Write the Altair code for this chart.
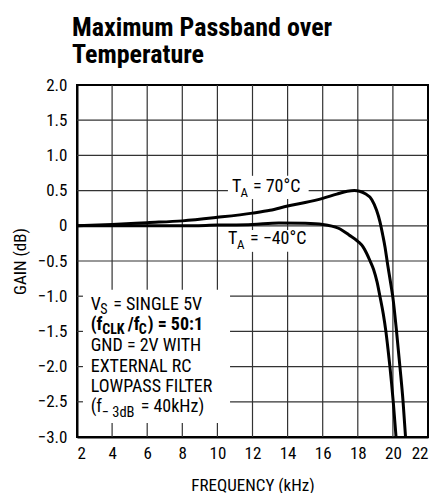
import altair as alt
import pandas as pd

FONT = "Liberation Sans Narrow, Roboto Condensed, DejaVu Sans Condensed, sans-serif"

# ---- data ----
freq_70 = [2, 4, 6, 8, 10, 12, 13, 14, 15, 16, 16.8, 17.4, 17.8, 18.1, 18.4, 18.8,
           19.07, 19.26, 19.42, 19.55, 19.7, 19.85, 20.0, 20.2, 20.4, 20.58, 20.72]
gain_70 = [0, 0.02, 0.045, 0.07, 0.12, 0.18, 0.22, 0.28, 0.33, 0.39, 0.45, 0.49, 0.50,
           0.49, 0.46, 0.37, 0.22, 0.06, -0.13, -0.3, -0.55, -0.78, -1.02, -1.48,
           -2.0, -2.5, -3.0]

freq_m40 = [2, 4, 6, 8, 10, 12, 13.5, 15, 16, 16.9, 17.5, 18.0, 18.3, 18.5, 18.7,
            18.9, 19.1, 19.26, 19.45, 19.6, 19.72, 19.83, 20.02, 20.18]
gain_m40 = [0, 0.0, 0.0, 0.0, 0.01, 0.02, 0.04, 0.035, 0.02, -0.035, -0.13, -0.22,
            -0.3, -0.39, -0.5, -0.62, -0.8, -1.0, -1.25, -1.5, -1.75, -2.0, -2.5, -3.0]

x_ticks = [2, 4, 6, 8, 10, 12, 14, 16, 18, 20, 22]
y_ticks = [-3.0, -2.5, -2.0, -1.5, -1.0, -0.5, 0.0, 0.5, 1.0, 1.5, 2.0]

title_lines = ["Maximum Passband over", "Temperature"]
x_title = "FREQUENCY (kHz)"
y_title = "GAIN (dB)"

# clear areas (grid removed) behind annotations, data units
box_f = [10.6, 10.45, 2.34]
box_f2 = [15.2, 15.45, 10.72]
box_g = [0.38, -0.37, -2.80]
box_g2 = [0.71, -0.06, -0.91]

# annotation pieces: text, anchor f, anchor g, dx, dy, size, weight
ann_text = ["T", "A", "= 70°C",
            "T", "A", "= −40°C",
            "V", "S", "= SINGLE 5V",
            "(f", "CLK", "/f", "C", ") = 50:1",
            "GND = 2V WITH",
            "EXTERNAL RC",
            "LOWPASS FILTER",
            "(f", "− 3dB", "= 40kHz)"]
ann_f = [10.83, 10.83, 10.83,
         10.6, 10.6, 10.6,
         2.78, 2.78, 2.78,
         2.78, 2.78, 2.78, 2.78, 2.78,
         2.78, 2.78, 2.78,
         2.78, 2.78, 2.78]
ann_g = [0.551, 0.551, 0.551,
         -0.19, -0.19, -0.19,
         -1.125, -1.125, -1.125,
         -1.416, -1.416, -1.416, -1.416, -1.416,
         -1.707, -1.999, -2.29,
         -2.58, -2.58, -2.58]
ann_dx = [0, 8.5, 21,
          0, 9, 22,
          0, 9.5, 22.5,
          0, 11.5, 37, 48, 57,
          0, 0, 0,
          0, 11, 50]
ann_dy = [0, 6, 0,
          0, 6, 0,
          0, 4.5, 0,
          0, 4.5, 0, 4.5, 0,
          0, 0, 0,
          0, 6, 0]
ann_size = [18, 13, 18,
            18, 13, 18,
            18, 14, 18,
            18, 14, 18, 14, 18,
            18, 18, 18,
            18, 14.5, 18]
ann_weight = ["normal"] * 9 + ["bold"] * 5 + ["normal"] * 6


def split(lo, hi, holes):
    """Return the parts of [lo, hi] outside the given (a, b) holes."""
    parts, cur = [], lo
    for a, b in sorted(holes):
        if a > cur:
            parts.append((cur, a))
        cur = max(cur, b)
    if cur < hi:
        parts.append((cur, hi))
    return parts


# grid segments built from ticks and the clear areas
v_rows = []
for t in x_ticks[1:-1]:
    holes = [(box_g[i], box_g2[i]) for i in range(len(box_f)) if box_f[i] < t < box_f2[i]]
    for a, b in split(y_ticks[0], y_ticks[-1], holes):
        v_rows.append({"f": t, "g": a, "g2": b})
h_rows = []
for t in y_ticks[1:-1]:
    holes = [(box_f[i], box_f2[i]) for i in range(len(box_f)) if box_g[i] < t < box_g2[i]]
    for a, b in split(x_ticks[0], x_ticks[-1], holes):
        h_rows.append({"g": t, "f": a, "f2": b})

# ---- chart ----
xs = alt.Scale(domain=[2, 22], nice=False, zero=False)
ys = alt.Scale(domain=[-3, 2], nice=False, zero=False)

x_axis = alt.Axis(values=x_ticks, title=x_title, grid=False, ticks=False,
                  labelPadding=8, labelFontSize=17, labelFont=FONT, labelColor="black",
                  titleFont=FONT, titleFontSize=17, titleFontWeight="normal",
                  titleColor="black", titleY=48, titleBaseline="middle",
                  domainColor="black", domainWidth=2)
y_axis = alt.Axis(values=y_ticks, title=y_title, grid=False, ticks=False,
                  labelPadding=10, labelFontSize=17, labelFont=FONT, labelColor="black",
                  labelExpr="datum.value == 0 ? '0' : replace(format(datum.value, '.1f'), '-', '−')",
                  titleFont=FONT, titleFontSize=17, titleFontWeight="normal",
                  titleColor="black", titleX=-57, titleY=176, titleAngle=-90,
                  titleAlign="center", titleBaseline="middle",
                  domainColor="black", domainWidth=2)

X = alt.X("f:Q", scale=xs, axis=x_axis)
Y = alt.Y("g:Q", scale=ys, axis=y_axis)

curves = pd.concat([
    pd.DataFrame({"f": freq_70, "g": gain_70, "series": "70"}),
    pd.DataFrame({"f": freq_m40, "g": gain_m40, "series": "-40"}),
])

boxes = pd.DataFrame({"f": box_f, "f2": box_f2, "g": box_g, "g2": box_g2})
box_layer = alt.Chart(boxes).mark_rect(fill="white").encode(
    x=X, x2=alt.X2("f2"), y=Y, y2=alt.Y2("g2"))

vgrid = alt.Chart(pd.DataFrame(v_rows)).mark_rule(
    stroke="#333333", strokeWidth=1.2).encode(x=X, y=Y, y2=alt.Y2("g2"))
hgrid = alt.Chart(pd.DataFrame(h_rows)).mark_rule(
    stroke="#333333", strokeWidth=1.2).encode(y=Y, x=X, x2=alt.X2("f2"))

line_layer = alt.Chart(curves).mark_line(color="black", strokeWidth=3,
                                         interpolate="monotone").encode(
    x=X, y=Y, detail="series:N")

layers = [box_layer, vgrid, hgrid, line_layer]
for i in range(len(ann_text)):
    df = pd.DataFrame({"f": [ann_f[i]], "g": [ann_g[i]], "t": [ann_text[i]]})
    layers.append(
        alt.Chart(df).mark_text(align="left", baseline="middle", dx=ann_dx[i],
                                dy=ann_dy[i], fontSize=ann_size[i],
                                fontWeight=ann_weight[i], font=FONT, color="black")
        .encode(x=X, y=Y, text="t:N")
    )

chart = alt.layer(*layers).properties(
    width=351, height=352,
    title=alt.TitleParams(text=title_lines, anchor="start", frame="group",
                          fontSize=26, fontWeight="bold", font=FONT, color="black",
                          lineHeight=27, dx=-5, offset=8),
    autosize=alt.AutoSizeParams(type="none"),
    padding={"left": 69, "top": 77, "right": 5, "bottom": 56},
).configure_view(stroke="black", strokeWidth=2)

chart.save("out.html", embed_options={"renderer": "svg", "actions": False})
